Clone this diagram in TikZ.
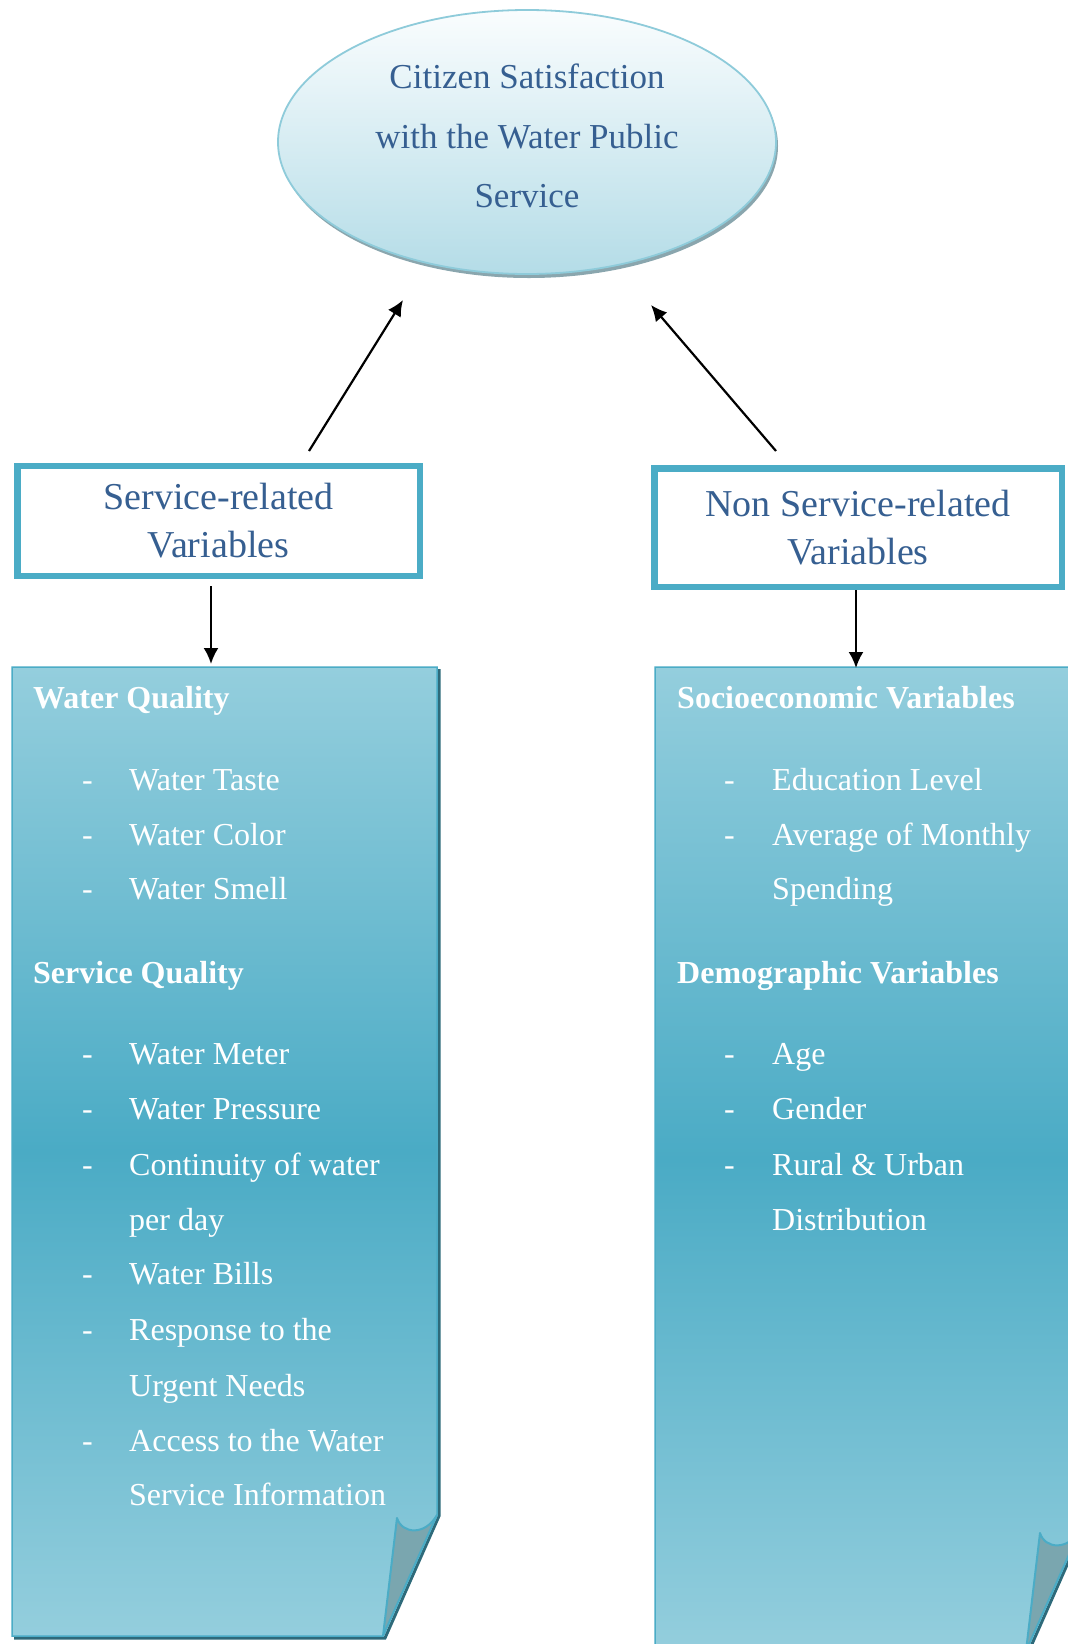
\documentclass[tikz,border=0pt]{standalone}
\usepackage{fontspec}
\setmainfont{Liberation Serif}
\usetikzlibrary{shapes.geometric,arrows.meta,shadows}
\definecolor{acc}{HTML}{4BACC6}
\definecolor{txtblue}{HTML}{365F91}
\definecolor{doclight}{HTML}{94CEDD}
\definecolor{docdark}{HTML}{4AABC5}
\definecolor{flapc}{HTML}{7AA6AF}
\definecolor{docshadow}{HTML}{2E6A7A}
\definecolor{elltop}{HTML}{FAFDFE}
\definecolor{ellbot}{HTML}{B4DCE7}
\definecolor{ellline}{HTML}{8ECBDA}
\definecolor{ellshadow}{HTML}{8AA6AE}
\begin{document}
\begin{tikzpicture}[x=1pt,y=-1pt,
  varbox/.style={draw=acc, line width=6.5pt, fill=white, text=txtblue, align=center,
    font=\fontsize{38}{48}\selectfont, inner sep=0pt},
  arr/.style={line width=2.2pt, -{Latex[length=16pt,width=15pt]}},
  docfill/.style={draw=acc, line width=1.5pt, top color=doclight, bottom color=doclight, middle color=docdark},
  docsh/.style={draw=docshadow, line width=3pt},
  flapst/.style={fill=flapc, draw=acc, line width=2pt, line join=round},
  doctxt/.style={anchor=base west, text=white, font=\fontsize{32}{38}\selectfont, inner sep=0pt},
  dochead/.style={doctxt, font=\fontsize{32}{38}\selectfont\bfseries}
]
\useasboundingbox (0,0) rectangle (1068,1644);
\clip (0,0) rectangle (1068,1644);
\fill[white] (0,0) rectangle (1068,1644);

% ellipse
\node[ellipse, minimum width=498pt, minimum height=264pt, inner sep=0pt, draw=ellline, line width=1.8pt,
  top color=elltop, bottom color=ellbot,
  drop shadow={shadow xshift=2pt, shadow yshift=-4pt, fill=ellshadow, opacity=1}] (sat) at (527,142) {};
\node[align=center, text=txtblue, font=\fontsize{35}{59.5}\selectfont, inner sep=0pt] (satT) at (527,136)
  {Citizen Satisfaction\\with the Water Public\\Service};

% boxes
\node[varbox, minimum width=402.5pt, minimum height=110pt] (srv) at (218.5,521) {Service-related\\Variables};
\node[varbox, minimum width=407.5pt, minimum height=118.5pt] (nsrv) at (858,527.5) {Non Service-related\\Variables};

% arrow end points
\coordinate (la0) at (309,451);
\coordinate (la1) at (403,300);
\coordinate (ra0) at (776,451);
\coordinate (ra1) at (651,305);
\coordinate (ld0) at (211,586);
\coordinate (ld1) at (211,664);
\coordinate (rd0) at (856,590);
\coordinate (rd1) at (856,668);

% left document
\draw[docsh] (439,669) -- (439,1516) -- (385,1638) -- (14,1638);
\path[docfill] (12,667) -- (437,667) -- (437,1515) -- (383,1636) -- (12,1636) -- cycle;
\path[flapst] (397,1518) .. controls (402,1534) and (425,1536) .. (437,1515) -- (383,1636) -- cycle;

% right document
\draw[docsh] (1082,669) -- (1082,1531) -- (1028,1653);
\path[docfill] (655,667) -- (1080,667) -- (1080,1530) -- (1026,1651) -- (655,1651) -- cycle;
\path[flapst] (1040,1533) .. controls (1045,1549) and (1068,1551) .. (1080,1530) -- (1026,1651) -- cycle;

% arrows
\draw[arr] (la0) -- (la1);
\draw[arr] (ra0) -- (ra1);
\draw[arr] (ld0) -- (ld1);
\draw[arr] (rd0) -- (rd1);

% left text
\node[dochead] (h1) at (33,708) {Water Quality};
\node[doctxt] (d1) at (82,790) {-}; \node[doctxt] (t1) at (129,790) {Water Taste};
\node[doctxt] (d2) at (82,845) {-}; \node[doctxt] (t2) at (129,845) {Water Color};
\node[doctxt] (d3) at (82,899) {-}; \node[doctxt] (t3) at (129,899) {Water Smell};
\node[dochead] (h2) at (33,983) {Service Quality};
\node[doctxt] (d4) at (82,1064) {-}; \node[doctxt] (t4) at (129,1064) {Water Meter};
\node[doctxt] (d5) at (82,1119) {-}; \node[doctxt] (t5) at (129,1119) {Water Pressure};
\node[doctxt] (d6) at (82,1175) {-}; \node[doctxt] (t6) at (129,1175) {Continuity of water};
\node[doctxt] (t6b) at (129,1230) {per day};
\node[doctxt] (d7) at (82,1284) {-}; \node[doctxt] (t7) at (129,1284) {Water Bills};
\node[doctxt] (d8) at (82,1340) {-}; \node[doctxt] (t8) at (129,1340) {Response to the};
\node[doctxt] (t8b) at (129,1396) {Urgent Needs};
\node[doctxt] (d9) at (82,1451) {-}; \node[doctxt] (t9) at (129,1451) {Access to the Water};
\node[doctxt] (t9b) at (129,1505) {Service Information};

% right text
\node[dochead] (h3) at (677,708) {Socioeconomic Variables};
\node[doctxt] (e1) at (724,790) {-}; \node[doctxt] (u1) at (772,790) {Education Level};
\node[doctxt] (e2) at (724,845) {-}; \node[doctxt] (u2) at (772,845) {Average of Monthly};
\node[doctxt] (u2b) at (772,899) {Spending};
\node[dochead] (h4) at (677,983) {Demographic Variables};
\node[doctxt] (e3) at (724,1064) {-}; \node[doctxt] (u3) at (772,1064) {Age};
\node[doctxt] (e4) at (724,1119) {-}; \node[doctxt] (u4) at (772,1119) {Gender};
\node[doctxt] (e5) at (724,1175) {-}; \node[doctxt] (u5) at (772,1175) {Rural \& Urban};
\node[doctxt] (u5b) at (772,1230) {Distribution};
\end{tikzpicture}
\end{document}
